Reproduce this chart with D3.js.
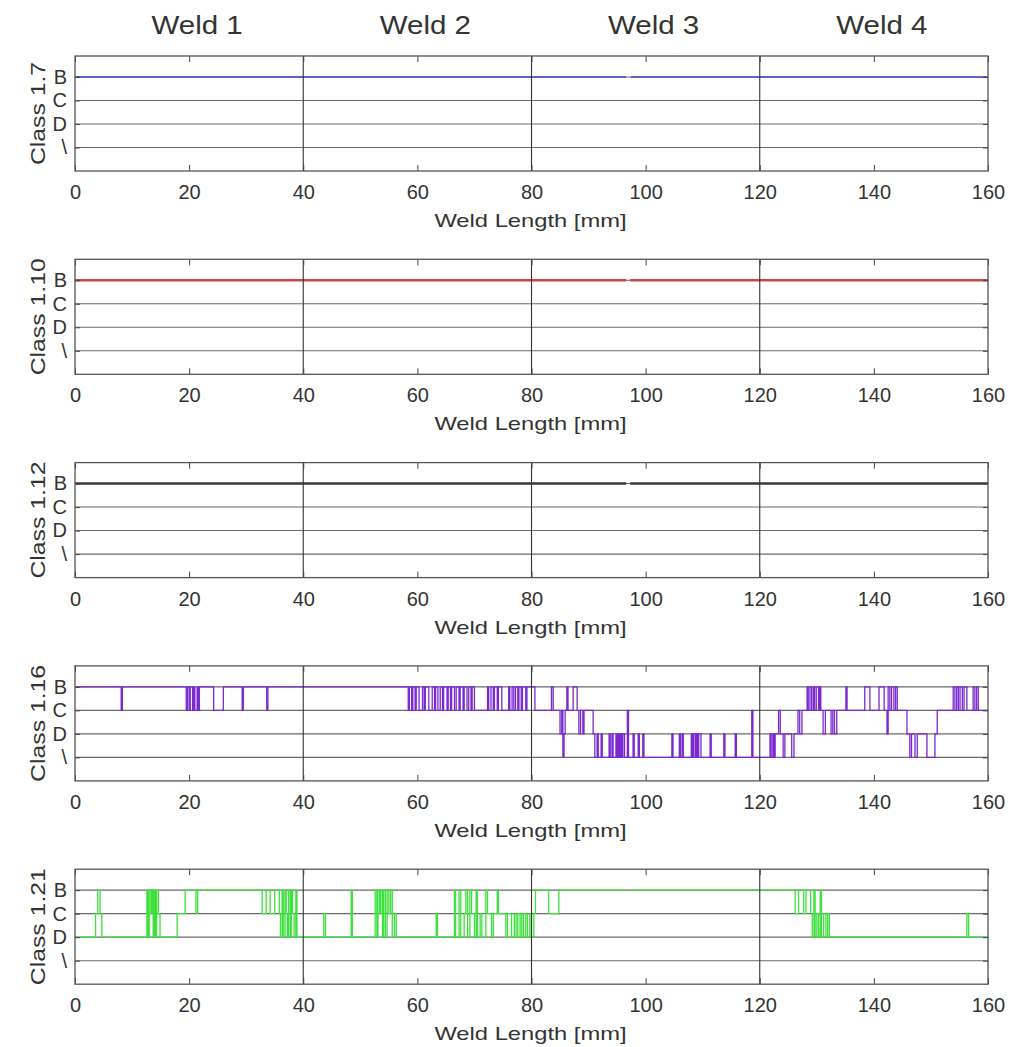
<!DOCTYPE html>
<html>
<head>
<meta charset="utf-8">
<script src="https://cdn.jsdelivr.net/npm/d3@7"></script>
<style>
  body { margin: 0; background: #fff; }
  text { font-family: "Liberation Sans", Arial, sans-serif; fill: #333; }
</style>
</head>
<body>
<svg width="1032" height="1047"></svg>
<script>
// ---- data ----
const weldNames = ["Weld 1", "Weld 2", "Weld 3", "Weld 4"];
const xTicks = [0, 20, 40, 60, 80, 100, 120, 140, 160];
const weldBounds = [40, 80, 120];
const classLabels = ["\\", "D", "C", "B"]; // levels 1..4
const panelNames = ["Class 1.7", "Class 1.10", "Class 1.12", "Class 1.16", "Class 1.21"];
const panelColors = ["#4545d0", "#c84848", "#3a3a3a", "#7a2ad0", "#3ee03e"];
const panelWidths = [1.6, 2.4, 2.4, 1.3, 1.3];

// step series: [position mm, class] (null = gap)
const class17 = [[0, "B"], [96.6, "B"], [96.6, null], [97.4, "B"], [160, "B"]];
const class110 = [[0, "B"], [96.6, "B"], [96.6, null], [97.3, "B"], [160, "B"]];
const class112 = [[0, "B"], [96.6, "B"], [96.6, null], [97.3, "B"], [160, "B"]];
const class116 = [
  [0, "B"], [8.1, "C"], [8.3, "B"],
  [19.5, "C"], [19.7, "B"], [20.0, "C"], [20.2, "B"], [20.6, "C"], [20.8, "B"], [21.0, "C"], [21.4, "B"], [21.6, "C"], [21.8, "B"],
  [24.3, "C"], [26.0, "B"], [29.3, "C"], [29.5, "B"], [33.6, "C"], [33.8, "B"],
  [58.4, "C"], [58.6, "B"], [59.0, "C"], [59.2, "B"], [59.6, "C"], [59.8, "B"], [60.3, "C"], [60.9, "B"], [61.2, "C"], [61.4, "B"],
  [62.0, "C"], [62.6, "B"], [63.0, "C"], [63.2, "B"], [63.6, "C"], [64.0, "B"], [64.4, "C"], [64.6, "B"], [65.2, "C"], [65.4, "B"],
  [65.8, "C"], [66.0, "B"], [66.5, "C"], [66.8, "B"], [67.3, "C"], [67.5, "B"], [68.0, "C"], [68.2, "B"], [68.7, "C"], [69.0, "B"],
  [69.4, "C"], [69.6, "B"], [70.0, "C"], [72.3, "B"], [72.5, "C"], [72.9, "B"], [73.3, "C"], [73.5, "B"], [74.0, "C"], [74.2, "B"],
  [74.8, "C"], [76.0, "B"], [76.2, "C"], [76.6, "B"], [76.9, "C"], [77.2, "B"], [77.6, "C"], [77.8, "B"], [78.2, "C"], [78.4, "B"],
  [79.0, "C"], [79.2, "B"], [80.6, "C"], [83.5, "B"], [83.8, "C"],
  [85.0, "D"], [85.3, "C"], [85.5, "\\"], [85.7, "D"], [85.9, "C"], [86.2, "B"], [86.4, "C"], [87.3, "B"], [88.0, "C"],
  [88.3, "D"], [88.6, "C"], [89.0, "D"], [89.2, "C"], [90.8, "D"], [91.1, "\\"],
  [91.5, "D"], [91.7, "\\"], [92.2, "D"], [92.4, "\\"], [93.6, "D"], [93.8, "\\"], [94.1, "D"], [94.3, "\\"],
  [94.8, "D"], [95.0, "\\"], [95.2, "D"], [95.4, "\\"], [95.6, "D"], [95.8, "\\"], [96.0, "D"], [96.3, "\\"], [96.8, "C"], [97.0, "\\"],
  [97.8, "D"], [98.0, "\\"], [98.7, "D"], [98.9, "\\"], [99.5, "D"], [99.7, "\\"],
  [104.6, "D"], [104.8, "\\"], [105.9, "D"], [106.1, "\\"], [106.4, "D"], [106.6, "\\"],
  [108.0, "D"], [108.2, "\\"], [108.4, "D"], [108.7, "\\"], [108.9, "D"], [109.1, "\\"], [109.3, "D"], [109.7, "\\"],
  [111.3, "D"], [111.5, "\\"], [113.7, "D"], [113.9, "\\"], [115.7, "D"], [115.9, "\\"], [118.6, "C"], [118.8, "\\"],
  [121.8, "D"], [122.0, "\\"], [122.3, "D"], [122.5, "\\"], [122.7, "D"], [123.3, "C"], [123.6, "D"],
  [124.1, "\\"], [124.4, "D"], [125.6, "\\"], [126.0, "D"], [126.7, "C"], [127.0, "D"], [127.4, "C"],
  [128.3, "B"], [128.5, "C"], [128.8, "B"], [129.1, "C"], [129.4, "B"], [129.6, "C"], [129.9, "B"], [130.3, "C"], [130.5, "B"], [130.7, "C"],
  [131.1, "D"], [131.5, "C"], [132.5, "D"], [132.8, "C"], [133.1, "D"], [133.5, "C"],
  [135.1, "B"], [135.3, "C"], [138.4, "B"], [139.3, "C"], [140.9, "B"], [141.8, "C"], [142.3, "D"], [142.5, "B"], [142.8, "C"],
  [143.1, "B"], [143.5, "C"], [143.8, "B"], [144.1, "C"],
  [145.8, "D"], [146.3, "\\"], [146.6, "D"], [147.2, "\\"], [147.6, "D"], [149.3, "\\"], [150.7, "D"], [151.1, "C"],
  [153.9, "B"], [154.2, "C"], [154.5, "B"], [154.8, "C"], [155.1, "B"], [155.5, "C"], [155.8, "B"], [156.3, "C"],
  [157.4, "B"], [157.7, "C"], [158.0, "B"], [158.3, "C"], [160, "C"]
];
const class121 = [
  [0, "D"], [3.6, "C"], [4.0, "B"], [4.4, "C"], [4.7, "D"],
  [12.6, "B"], [12.8, "D"], [13.0, "B"], [13.3, "C"], [13.5, "B"], [13.7, "D"], [13.9, "B"], [14.1, "D"], [14.3, "B"], [14.6, "C"], [14.9, "D"],
  [17.9, "C"], [19.3, "B"], [21.2, "C"], [21.5, "B"], [32.8, "C"], [33.5, "B"], [34.2, "C"], [35.0, "B"], [35.8, "C"],
  [36.0, "D"], [36.3, "B"], [36.5, "D"], [36.8, "B"], [37.0, "C"], [37.2, "D"], [37.4, "B"], [37.7, "D"], [37.9, "B"], [38.1, "C"],
  [38.4, "D"], [38.7, "B"], [38.9, "D"],
  [43.6, "C"], [43.9, "D"], [48.4, "B"], [48.6, "D"],
  [52.6, "B"], [52.9, "D"], [53.1, "B"], [53.4, "C"], [53.6, "B"], [53.9, "D"], [54.1, "B"], [54.4, "D"], [54.7, "B"], [55.0, "C"],
  [55.3, "B"], [55.6, "D"], [56.0, "C"], [56.3, "D"],
  [63.3, "C"], [63.5, "D"], [66.5, "B"], [66.7, "D"], [67.3, "B"], [67.6, "D"], [68.2, "C"], [68.5, "B"], [68.8, "D"], [69.2, "B"],
  [69.5, "C"], [70.0, "D"], [70.3, "B"], [70.5, "D"], [71.0, "C"], [71.3, "D"], [72.0, "B"], [72.3, "C"], [73.0, "D"], [73.3, "C"],
  [74.0, "B"], [74.2, "C"], [75.5, "D"], [75.8, "C"], [76.5, "D"], [77.0, "C"], [77.3, "D"], [77.6, "C"], [78.0, "D"], [78.3, "C"],
  [78.6, "D"], [79.0, "C"], [79.3, "D"], [79.7, "C"], [80.0, "D"], [80.4, "C"], [80.7, "B"], [83.0, "C"], [84.8, "B"],
  [96.4, "B"], [96.4, null], [97.2, "B"],
  [126.2, "C"], [126.8, "B"], [127.7, "C"], [128.1, "B"], [128.9, "C"], [129.2, "D"], [129.5, "B"], [129.7, "D"], [130.0, "C"],
  [130.3, "D"], [130.6, "B"], [130.8, "D"], [131.2, "C"], [131.6, "D"], [131.9, "C"], [132.2, "D"],
  [156.3, "C"], [156.6, "D"], [160, "D"]
];
const panelData = [class17, class110, class112, class116, class121];

// ---- layout ----
const svg = d3.select("svg");
const left = 75, right = 988, boxH = 115, firstTop = 56, step = 203.3;

const x = d3.scaleLinear().domain([0, 160]).range([left, right]);
const level = c => classLabels.indexOf(c) + 1;

// weld titles (text a little wider than Liberation Sans, so stretched horizontally)
svg.selectAll(".weld")
  .data(weldNames)
  .enter().append("text")
  .attr("transform", (d, i) => `translate(${x(20 + i * 40) + 8},34) scale(1.18,1)`)
  .attr("text-anchor", "middle")
  .style("font-size", "25px")
  .text(d => d);

panelData.forEach((series, i) => {
  const top = firstTop + i * step;
  const y = d3.scaleLinear().domain([0, 4.89]).range([top + boxH, top]);
  const g = svg.append("g");

  // clip for the data line
  svg.append("clipPath").attr("id", "clip" + i)
    .append("rect").attr("x", left).attr("y", top).attr("width", right - left).attr("height", boxH);

  // horizontal grid at class levels
  g.selectAll(".hgrid")
    .data([1, 2, 3, 4])
    .enter().append("line")
    .attr("x1", left).attr("x2", right)
    .attr("y1", d => y(d)).attr("y2", d => y(d))
    .attr("stroke", "#6a6a6a").attr("stroke-width", 1.1);

  // data line
  const line = d3.line()
    .defined(d => d[1] !== null)
    .x(d => x(d[0]))
    .y(d => y(level(d[1])))
    .curve(d3.curveStepAfter);

  g.append("path")
    .datum(series)
    .attr("d", line)
    .attr("clip-path", `url(#clip${i})`)
    .attr("fill", "none")
    .attr("stroke", panelColors[i])
    .attr("stroke-width", panelWidths[i]);

  // weld boundaries
  g.selectAll(".vgrid")
    .data(weldBounds)
    .enter().append("line")
    .attr("x1", d => x(d)).attr("x2", d => x(d))
    .attr("y1", top).attr("y2", top + boxH)
    .attr("stroke", "#333").attr("stroke-width", 1.1);

  // axes (inward ticks)
  const bottomAxis = g.append("g")
    .attr("transform", `translate(0,${top + boxH})`)
    .call(d3.axisBottom(x).tickValues(xTicks).tickSize(-6).tickPadding(14));
  const topAxis = g.append("g")
    .attr("transform", `translate(0,${top})`)
    .call(d3.axisTop(x).tickValues(xTicks).tickSize(-6).tickFormat(""));
  const leftAxis = g.append("g")
    .attr("transform", `translate(${left},0)`)
    .call(d3.axisLeft(y).tickValues([1, 2, 3, 4]).tickFormat(v => classLabels[v - 1]).tickSize(-5).tickPadding(8));
  const rightAxis = g.append("g")
    .attr("transform", `translate(${right},0)`)
    .call(d3.axisRight(y).tickValues([1, 2, 3, 4]).tickSize(-5).tickFormat(""));

  [bottomAxis, topAxis, leftAxis, rightAxis].forEach(a => {
    a.select(".domain").remove();
    a.selectAll("line").attr("stroke", "#444");
    a.selectAll("text").style("font-size", "20px").attr("fill", "#3a3a3a")
      .style("font-family", "'Liberation Sans', Arial, sans-serif");
  });

  // box
  g.append("rect")
    .attr("x", left).attr("y", top)
    .attr("width", right - left).attr("height", boxH)
    .attr("fill", "none").attr("stroke", "#555").attr("stroke-width", 1.3);

  // x label
  g.append("text")
    .attr("transform", `translate(${(left + right) / 2 - 1},${top + boxH + 56}) scale(1.25,1)`)
    .attr("text-anchor", "middle")
    .style("font-size", "19px")
    .text("Weld Length [mm]");

  // y label
  g.append("text")
    .attr("transform", `translate(45,${top + boxH / 2}) rotate(-90) scale(1.18,1)`)
    .attr("text-anchor", "middle")
    .style("font-size", "21px")
    .text(panelNames[i]);
});
</script>
</body>
</html>
